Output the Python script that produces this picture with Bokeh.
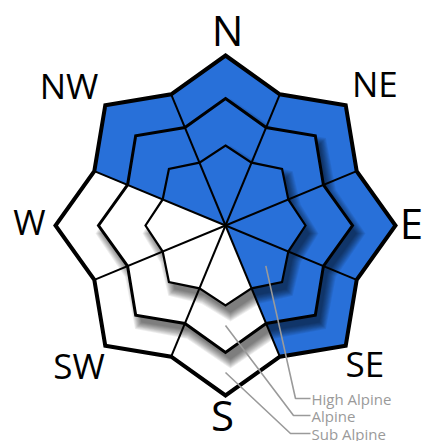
import math
from bokeh.plotting import figure
from bokeh.models import Range1d
from bokeh.core.properties import value
from bokeh.embed import file_html
from bokeh.resources import INLINE

# ---- data ----
directions = ["N", "NE", "E", "SE", "S", "SW", "W", "NW"]
bearings = [0, 45, 90, 135, 180, 225, 270, 315]
high_alpine = [1, 1, 1, 1, 0, 0, 0, 1]
alpine = [1, 1, 1, 1, 0, 0, 0, 1]
sub_alpine = [1, 1, 1, 1, 0, 0, 0, 1]
band_names = ["High Alpine", "Alpine", "Sub Alpine"]

# ---- style ----
BLUE = "#2870d9"
WHITE = "#ffffff"
rings = {  # (tip radius, valley radius)
    "outer": (170, 142),
    "middle": (127, 106),
    "inner": (80, 68),
}
HALF = 22.5
label_nudge = {"N": (2, 2), "NE": (8, 1), "E": (-8, 3), "SE": (-2, 3),
               "S": (-3, 5), "SW": (-5, 1), "W": (-2, 4), "NW": (-15, -1)}


def pt(r, b):
    a = math.radians(b)
    return r * math.sin(a), r * math.cos(a)


def star(tip, val, dx=0.0, dy=0.0, grow=0.0):
    xs, ys = [], []
    for i in range(16):
        r = (tip if i % 2 == 0 else val) + grow
        x, y = pt(r, i * HALF)
        xs.append(x + dx)
        ys.append(y + dy)
    return xs, ys


def band(b, outer, inner):
    pts = [pt(outer[1], b - HALF), pt(outer[0], b), pt(outer[1], b + HALF)]
    if inner is None:
        pts += [(0.0, 0.0)]
    else:
        pts += [pt(inner[1], b + HALF), pt(inner[0], b), pt(inner[1], b - HALF)]
    return [p[0] for p in pts], [p[1] for p in pts]


p = figure(width=422, height=441, output_backend="svg", toolbar_location=None,
           x_range=Range1d(-225, 197), y_range=Range1d(-216, 225),
           min_border=0)
p.axis.visible = False
p.grid.visible = False
p.outline_line_color = None
p.background_fill_color = "white"
p.border_fill_color = "white"

col = lambda v: BLUE if v else WHITE

# outer band fills
xs, ys, cs = [], [], []
for b, v in zip(bearings, sub_alpine):
    x, y = band(b, rings["outer"], rings["middle"])
    xs.append(x); ys.append(y); cs.append(col(v))
p.patches(xs, ys, fill_color=cs, line_color=cs, line_width=0.5)


def shadow(ring):
    tip, val = ring
    n = 10
    for k in range(n):
        g = 10 - k
        sx, sy = star(tip, val, dx=5, dy=-8, grow=g * 1.0 - 2)
        p.patch(sx, sy, fill_color="black", fill_alpha=0.065, line_color=None)


shadow(rings["middle"])

xs, ys, cs = [], [], []
for b, v in zip(bearings, alpine):
    x, y = band(b, rings["middle"], rings["inner"])
    xs.append(x); ys.append(y); cs.append(col(v))
p.patches(xs, ys, fill_color=cs, line_color=cs, line_width=0.5)

shadow(rings["inner"])

xs, ys, cs = [], [], []
for b, v in zip(bearings, high_alpine):
    x, y = band(b, rings["inner"], None)
    xs.append(x); ys.append(y); cs.append(col(v))
p.patches(xs, ys, fill_color=cs, line_color=cs, line_width=0.5)

# radial lines
for b in bearings:
    x1, y1 = pt(rings["outer"][1], b + HALF)
    p.segment(0, 0, x1, y1, line_color="black", line_width=2)

# star outlines
for name, w in (("inner", 2.2), ("middle", 3), ("outer", 4)):
    sx, sy = star(*rings[name])
    p.patch(sx, sy, fill_alpha=0, line_color="black", line_width=w, line_join="miter")

# direction labels
for d, b in zip(directions, bearings):
    card = len(d) == 1
    r = 194 if card else 200
    x, y = pt(r, b)
    nx, ny = label_nudge[d]
    p.text([x + nx], [y + ny], text=[d], text_font=value("Open Sans"),
           text_font_size="42px" if d in ("N", "E", "S") else "35px",
           text_align="center", text_baseline="middle", text_color="black")

# leader lines for elevation bands
starts = [pt(57, 135), pt(100, 180), pt(147, 180)]
elbow_x = [70, 68, 65]
label_y = [-173, -190, -208]
for (sx0, sy0), ex, ly, nm in zip(starts, elbow_x, label_y, band_names):
    p.line([sx0, ex, 85], [sy0, ly, ly], line_color="#9a9a9a", line_width=1.6)
    p.text([86], [ly], text=[nm], text_font=value("Open Sans"), text_font_size="15px",
           text_align="left", text_baseline="middle", text_color="#9a9a9a")

open("out.html", "w").write(file_html(p, INLINE))
